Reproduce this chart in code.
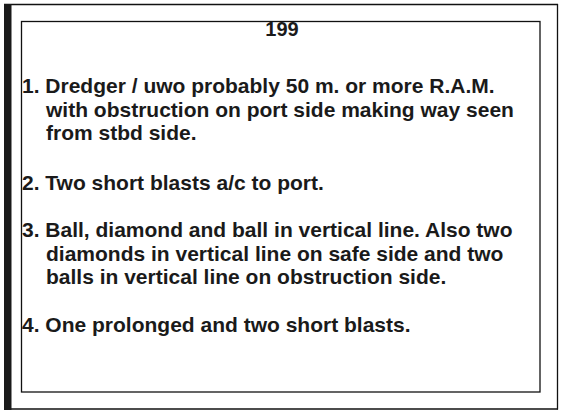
import React from 'react';

const pageLabel = '199';
const items = [
  ['1. Dredger / uwo probably 50 m. or more R.A.M.', 'with obstruction on port side making way seen', 'from stbd side.'],
  ['2. Two short blasts a/c to port.'],
  ['3. Ball, diamond and ball in vertical line. Also two', 'diamonds in vertical line on safe side and two', 'balls in vertical line on obstruction side.'],
  ['4. One prolonged and two short blasts.'],
];
const itemTops = [93, 190, 237, 332];

export default function App() {
  const font = "'Liberation Sans', Arial, sans-serif";
  return (
    <svg width={565} height={415} style={{ position: 'absolute', left: 0, top: 0, background: '#fff' }}>
      <line x1={4} y1={4.5} x2={558} y2={4.5} stroke="#111" strokeWidth={1.3} />
      <line x1={557.5} y1={4} x2={557.5} y2={409.5} stroke="#111" strokeWidth={1.3} />
      <line x1={4} y1={409} x2={558} y2={409} stroke="#111" strokeWidth={1.3} />
      <rect x={4} y={4} width={7.5} height={406} fill="#1a1a1a" />
      <rect x={21.5} y={21.5} width={518.5} height={370.5} fill="none" stroke="#111" strokeWidth={1.3} />
      <text x={282} y={36} textAnchor="middle" fontFamily={font} fontWeight="bold" fontSize={20} fill="#1a1a1a">{pageLabel}</text>
      {items.map((lines, i) => lines.map((t, j) => (
        <text key={`${i}-${j}`} x={j === 0 ? 22 : 46} y={itemTops[i] + j * 23.5}
          fontFamily={font} fontWeight="bold" fontSize={21} fill="#1a1a1a">{t}</text>
      )))}
    </svg>
  );
}
